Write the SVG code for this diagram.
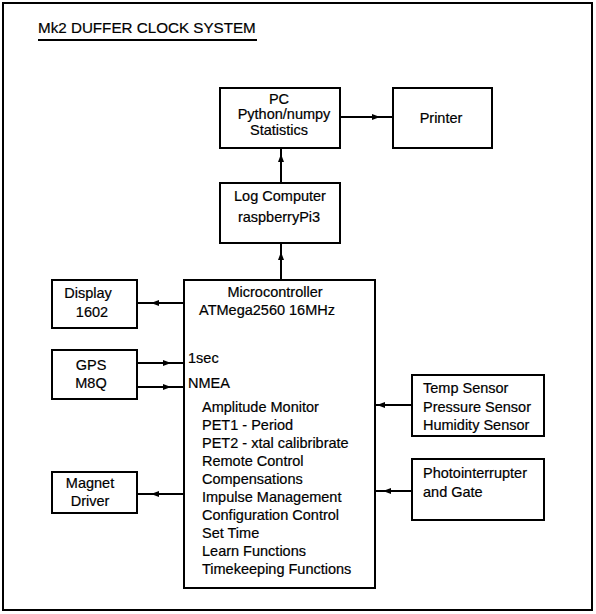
<svg xmlns="http://www.w3.org/2000/svg" width="596" height="614" viewBox="0 0 596 614">
<style>
.box{fill:#fff;stroke:#000;stroke-width:2}
.ln{fill:none;stroke:#000;stroke-width:2;marker-mid:url(#ah)}
text{font-family:"Liberation Sans",Arial,sans-serif;font-size:14.5px;fill:#000;stroke:#000;stroke-width:0.2}
.c{text-anchor:middle}
</style>
<defs>
<marker id="ah" viewBox="0 0 8 6" refX="8" refY="3" markerWidth="8" markerHeight="6" markerUnits="userSpaceOnUse" orient="auto">
<path d="M0,0 L8,3 L0,6 z" fill="#000"/>
</marker>
</defs>
<rect x="0" y="0" width="596" height="614" fill="#fff"/>
<rect x="3" y="3" width="589" height="607" fill="none" stroke="#000" stroke-width="2"/>
<g id="title">
<text x="38" y="33" style="font-size:15.2px">Mk2 DUFFER CLOCK SYSTEM</text>
<line x1="38" y1="40" x2="257" y2="40" stroke="#000" stroke-width="2"/>
</g>
<g id="connectors">
<path class="ln" d="M340,117 L380,117 L393,117"/>
<path class="ln" d="M281,183 L281,154 L281,148"/>
<path class="ln" d="M281,280 L281,252 L281,243"/>
<path class="ln" d="M184,303 L151,303 L137,303"/>
<path class="ln" d="M137,363 L171,363 L184,363"/>
<path class="ln" d="M137,387 L171,387 L184,387"/>
<path class="ln" d="M412,405 L377,405 L375,405"/>
<path class="ln" d="M412,491 L383,491 L375,491"/>
<path class="ln" d="M184,494 L151,494 L137,494"/>
</g>
<g id="pc">
<rect class="box" x="220" y="88" width="120" height="60"/>
<text class="c" x="279" y="104">PC</text>
<text class="c" x="284" y="119">Python/numpy</text>
<text class="c" x="279" y="135">Statistics</text>
</g>
<g id="printer">
<rect class="box" x="393" y="88" width="99" height="60"/>
<text class="c" x="441" y="123">Printer</text>
</g>
<g id="log">
<rect class="box" x="220" y="183" width="120" height="60"/>
<text class="c" x="280" y="201">Log Computer</text>
<text class="c" x="279" y="222">raspberryPi3</text>
</g>
<g id="micro">
<rect class="box" x="184" y="280" width="191" height="308"/>
<text class="c" x="275" y="297">Microcontroller</text>
<text class="c" x="267" y="315">ATMega2560 16MHz</text>
<text x="188" y="363">1sec</text>
<text x="188" y="388">NMEA</text>
<text x="202" y="412">Amplitude Monitor</text>
<text x="202" y="430">PET1 - Period</text>
<text x="202" y="448">PET2 - xtal calibribrate</text>
<text x="202" y="466">Remote Control</text>
<text x="202" y="484">Compensations</text>
<text x="202" y="502">Impulse Management</text>
<text x="202" y="520">Configuration Control</text>
<text x="202" y="538">Set Time</text>
<text x="202" y="556">Learn Functions</text>
<text x="202" y="574">Timekeeping Functions</text>
</g>
<g id="display">
<rect class="box" x="52" y="280" width="85" height="48"/>
<text class="c" x="88" y="298">Display</text>
<text class="c" x="92" y="317">1602</text>
</g>
<g id="gps">
<rect class="box" x="52" y="350" width="85" height="49"/>
<text class="c" x="91" y="370">GPS</text>
<text class="c" x="91" y="388">M8Q</text>
</g>
<g id="magnet">
<rect class="box" x="52" y="472" width="85" height="41"/>
<text class="c" x="90" y="488">Magnet</text>
<text class="c" x="90" y="506">Driver</text>
</g>
<g id="sensors">
<rect class="box" x="412" y="375" width="132" height="61"/>
<text x="423" y="393">Temp Sensor</text>
<text x="423" y="412">Pressure Sensor</text>
<text x="423" y="430">Humidity Sensor</text>
</g>
<g id="photo">
<rect class="box" x="412" y="459" width="132" height="61"/>
<text x="423" y="478">Photointerrupter</text>
<text x="423" y="497">and Gate</text>
</g>
</svg>
